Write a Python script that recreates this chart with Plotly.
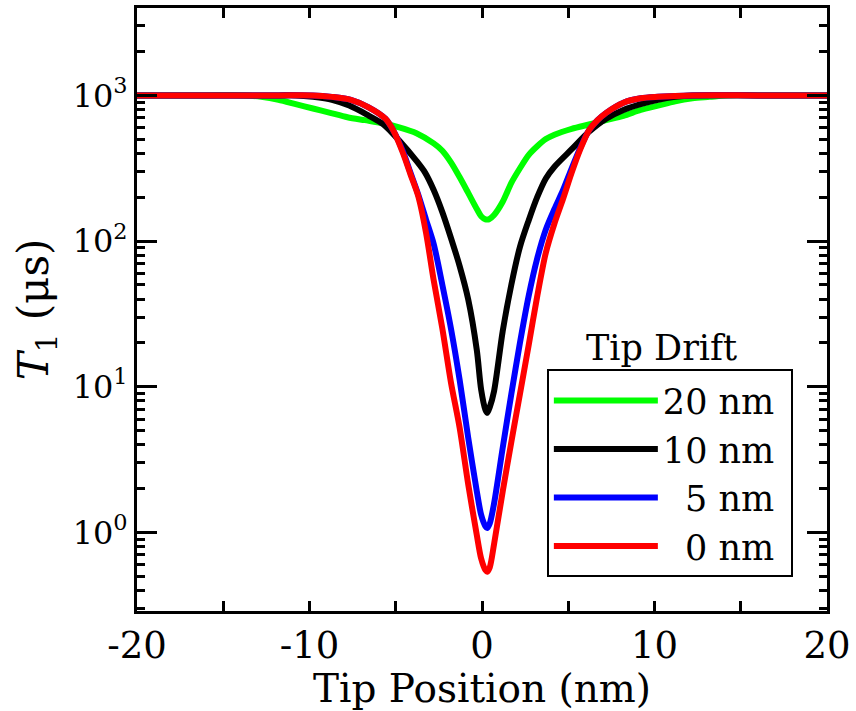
import plotly.graph_objects as go

# ---- data (T1 in microseconds vs tip position in nm) ----
x_green = [-20, -16, -13.8, -12.8, -11.8, -10.8, -9.8, -8.8, -7.8, -6.8, -5.8, -4.8, -3.8, -2.8, -2.3, -1.8, -1.3, -0.8, -0.3, -0.05,
           0.2, 0.4, 0.7, 1.2, 1.7, 2.2, 2.7, 3.2, 3.7, 4.2, 5.2, 6.2, 7.2, 8.2, 9.2, 10.2, 11.2, 12.2, 13.2, 14.2, 16, 20]
t1_green = [1000, 1000, 1000, 977, 933, 871, 813, 759, 708, 676, 646, 603, 550, 468, 417, 347, 275, 214, 166, 148,
            141, 141, 151, 186, 251, 316, 389, 447, 501, 537, 589, 631, 676, 724, 794, 851, 912, 955, 977, 1000, 1000, 1000]

x_black = [-20, -16, -11.8, -10.8, -9.8, -8.7, -7.7, -6.7, -5.7, -4.8, -3.8, -3.3, -2.8, -2.3, -1.8, -1.3, -0.8, -0.3, -0.05,
           0.2, 0.3, 0.45, 0.7, 1.2, 1.7, 2.2, 2.7, 3.2, 3.7, 4.2, 5.2, 6.2, 7.2, 8.2, 9.2, 10.2, 11.2, 12.2, 16, 20]
t1_black = [1000, 1000, 1000, 1000, 977, 933, 851, 741, 631, 490, 355, 295, 224, 158, 105, 67.6, 39.8, 17.8, 9.55,
            6.92, 6.61, 7.24, 9.33, 24.0, 50.1, 91.2, 138, 200, 269, 324, 427, 562, 692, 794, 871, 933, 977, 1000, 1000, 1000]

x_blue = [-20, -16, -11.8, -9.8, -8.7, -7.6, -6.6, -5.6, -5.1, -4.6, -4.15, -3.7, -3.25, -2.8, -2.3, -1.8, -1.3, -0.8, -0.3, -0.05,
          0.2, 0.3, 0.45, 0.7, 1.2, 1.7, 2.2, 2.7, 3.2, 3.7, 4.2, 4.7, 5.2, 5.7, 6.2, 6.7, 7.2, 8.2, 9.2, 10.2, 12.2, 16, 20]
t1_blue = [1000, 1000, 1000, 1000, 977, 933, 832, 692, 562, 417, 295, 209, 141, 95.5, 50.1, 25.1, 11.2, 4.47, 1.91, 1.32,
           1.10, 1.07, 1.15, 1.58, 3.80, 8.91, 20.0, 41.7, 75.9, 120, 166, 224, 316, 437, 575, 676, 759, 891, 955, 977, 1000, 1000, 1000]

x_red = [-20, -16, -11.8, -9.8, -8.7, -7.6, -6.6, -5.6, -5.1, -4.6, -4.15, -3.7, -3.25, -2.8, -2.3, -1.8, -1.3, -0.8, -0.3, -0.05,
         0.2, 0.3, 0.45, 0.7, 1.2, 1.7, 2.2, 2.7, 3.2, 3.7, 4.2, 4.7, 5.2, 5.7, 6.2, 6.7, 7.2, 8.2, 9.2, 10.2, 12.2, 16, 20]
t1_red = [1000, 1000, 1000, 1000, 977, 933, 832, 692, 562, 407, 288, 204, 115, 53.7, 25.1, 10.7, 5.25, 2.14, 0.955, 0.661,
          0.550, 0.537, 0.575, 0.832, 1.91, 4.17, 8.91, 19.1, 41.7, 83.2, 132, 195, 295, 427, 575, 676, 759, 891, 955, 977, 1000, 1000, 1000]

series_names = ["20 nm\u00a0", "10 nm\u00a0", "\u00a0\u00a05 nm\u00a0", "\u00a0\u00a00 nm\u00a0"]
series_colors = ["#00ff00", "#000000", "#0000ff", "#ff0000"]

x_tickvals = [-20, -10, 0, 10, 20]
x_ticktext = ["-20", "-10", "0", "10", "20"]
y_tickvals = [1, 10, 100, 1000]
y_ticktext = ["10<sup>0</sup>", "10<sup>1</sup>", "10<sup>2</sup>", "10<sup>3</sup>"]

FONT = "DejaVu Serif"

fig = go.Figure()
for i, (xs, ys) in enumerate([(x_green, t1_green), (x_black, t1_black), (x_blue, t1_blue), (x_red, t1_red)]):
    fig.add_trace(go.Scatter(
        x=xs, y=ys, mode="lines", name=series_names[i], legendgroup=str(i),
        line=dict(color=series_colors[i], width=6, shape="spline", smoothing=0.8),
    ))

fig.update_layout(
    width=856, height=711,
    margin=dict(l=137, r=26, t=5, b=100),
    paper_bgcolor="white", plot_bgcolor="white",
    font=dict(family=FONT, color="black", size=30),
    showlegend=True,
    legend=dict(
        x=0.594, y=0.056, xanchor="left", yanchor="bottom",
        bgcolor="white", bordercolor="black", borderwidth=2,
        font=dict(family=FONT, size=35, color="black"),
        itemwidth=104, tracegroupgap=0, traceorder="normal",
    ),
    annotations=[dict(
        text="Tip Drift", x=0.76, y=0.436, xref="paper", yref="paper",
        showarrow=False, font=dict(family=FONT, size=35, color="black"),
        xanchor="center", yanchor="middle",
    )],
)

fig.update_xaxes(
    range=[-20, 20], tickvals=x_tickvals, ticktext=x_ticktext,
    ticks="inside", ticklen=10, tickwidth=2.5, tickcolor="black",
    minor=dict(tickvals=[-15, -5, 5, 15], ticks="inside", ticklen=10, tickwidth=2.5, tickcolor="black", showgrid=False),
    showline=True, linewidth=3, linecolor="black", mirror="ticks",
    showgrid=False, zeroline=False,
    tickfont=dict(family=FONT, size=37),
    title=dict(text="Tip Position (nm)", font=dict(family=FONT, size=39), standoff=0),
)

fig.update_yaxes(
    type="log", range=[-0.54, 3.60],
    tickvals=y_tickvals, ticktext=y_ticktext,
    ticks="inside", ticklen=20, tickwidth=2.5, tickcolor="black",
    minor=dict(dtick="D1", ticks="inside", ticklen=8, tickwidth=2.5, tickcolor="black", showgrid=False),
    showline=True, linewidth=3, linecolor="black", mirror="ticks",
    showgrid=False, zeroline=False,
    tickfont=dict(family=FONT, size=32),
    title=dict(text="<i>T</i><sub>1</sub> (\u03bcs)", font=dict(family=FONT, size=42), standoff=11),
)

fig.write_html("out.html", config={"displayModeBar": False},
               post_script="document.body.style.margin='0px';")
